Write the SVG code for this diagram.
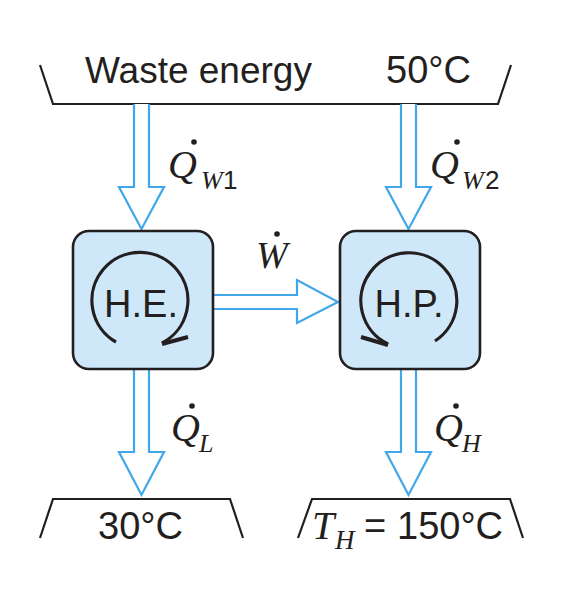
<svg xmlns="http://www.w3.org/2000/svg" width="576" height="594" viewBox="0 0 576 594">
<style>
.res{fill:none;stroke:#231f20;stroke-width:2.2;stroke-linejoin:miter}
.box{fill:#cfe8f9;stroke:#231f20;stroke-width:2.6}
.arc{fill:none;stroke:#231f20;stroke-width:3.2}
.barb{fill:none;stroke:#231f20;stroke-width:4;stroke-linecap:butt}
.flow{fill:#ffffff;stroke:#40a7e8;stroke-width:2.2;stroke-linejoin:miter}
.sans{font-family:"Liberation Sans",Arial,Helvetica,sans-serif;fill:#231f20}
.ital{font-family:"Liberation Serif","Times New Roman",serif;font-style:italic;fill:#231f20}
.dot{fill:#231f20}
</style>
<rect width="576" height="594" fill="#ffffff"/>

<g id="source">
<polyline class="res" points="40,65 53,104 498,104 511,65"/>
<text class="sans" x="85" y="83" font-size="37">Waste energy</text>
<text class="sans" x="386" y="83" font-size="38">50°C</text>
</g>

<g id="sink-low">
<polyline class="res" points="40,538 53,499 230,499 243,538"/>
<text class="sans" x="98" y="539" font-size="38">30°C</text>
</g>

<g id="sink-high">
<polyline class="res" points="298,538 312,499 510,499 523,538"/>
<text class="ital" x="312" y="539" font-size="40">T</text>
<text class="ital" x="335" y="549" font-size="27">H</text>
<text class="sans" x="364" y="539" font-size="38">=</text>
<text class="sans" x="397" y="539" font-size="38">150°C</text>
</g>

<g id="connectors">
<polyline class="flow" points="134,104 134,187 119,187 141.5,229 164,187 149,187 149,104"/>
<polyline class="flow" points="401,104 401,187 386,187 408.5,229 431,187 416,187 416,104"/>
<polyline class="flow" points="134,369 134,452 119,452 141.5,495 164,452 149,452 149,369"/>
<polyline class="flow" points="401,369 401,452 386,452 408.5,495 431,452 416,452 416,369"/>
<polyline class="flow" points="213,295 297,295 297,280 338,302 297,323 297,309 213,309"/>
</g>

<g id="he">
<rect class="box" x="73" y="231" width="140" height="138" rx="16"/>
<path class="arc" d="M116,342 A48,48 0 1 1 162,343"/>
<line class="barb" x1="162" y1="344" x2="188" y2="337"/>
<text class="sans" x="141" y="317" font-size="38" text-anchor="middle">H.E.</text>
</g>

<g id="hp">
<rect class="box" x="340" y="231" width="140" height="138" rx="16"/>
<path class="arc" d="M435,341 A48,48 0 1 0 388,344"/>
<line class="barb" x1="388" y1="345" x2="361" y2="337"/>
<text class="sans" x="409" y="317" font-size="38" text-anchor="middle">H.P.</text>
</g>

<g id="labels">
<g id="label-qw1">
<text class="ital" x="168" y="178" font-size="40">Q</text>
<circle class="dot" cx="194" cy="142" r="2.8"/>
<text class="ital" x="201" y="189" font-size="26">W</text>
<text class="sans" x="223" y="189" font-size="26">1</text>
</g>
<g id="label-qw2">
<text class="ital" x="430" y="178" font-size="40">Q</text>
<circle class="dot" cx="457" cy="142" r="2.8"/>
<text class="ital" x="462" y="189" font-size="26">W</text>
<text class="sans" x="485" y="189" font-size="26">2</text>
</g>
<g id="label-w">
<text class="ital" x="256" y="268" font-size="38">W</text>
<circle class="dot" cx="277" cy="234" r="2.8"/>
</g>
<g id="label-ql">
<text class="ital" x="171" y="441" font-size="40">Q</text>
<circle class="dot" cx="192" cy="406" r="2.8"/>
<text class="ital" x="199" y="452" font-size="26">L</text>
</g>
<g id="label-qh">
<text class="ital" x="434" y="441" font-size="40">Q</text>
<circle class="dot" cx="456" cy="406" r="2.8"/>
<text class="ital" x="462" y="452" font-size="26">H</text>
</g>
</g>
</svg>
